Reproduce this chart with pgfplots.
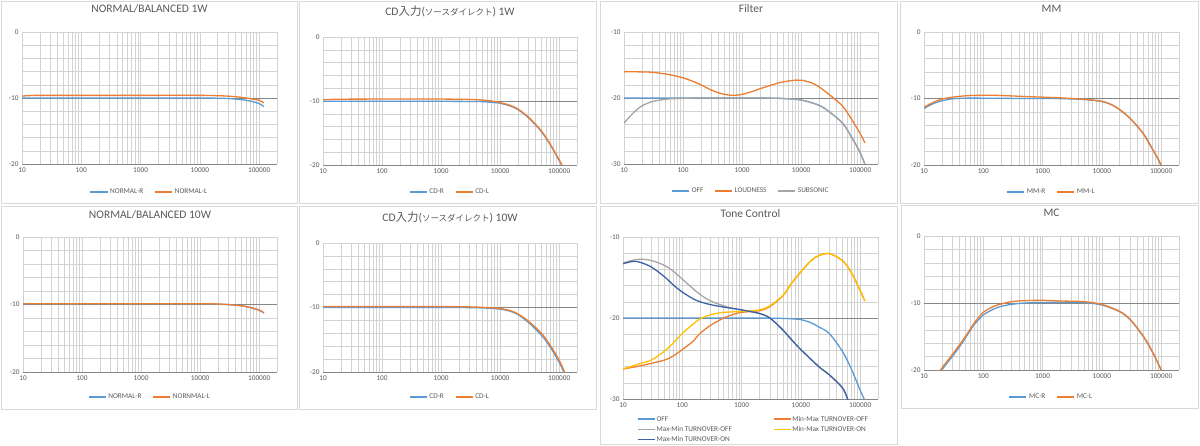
\documentclass[border=0pt]{standalone}
\usepackage{fontspec}
\setmainfont{Carlito}
\newfontfamily\jp{Noto Sans CJK JP}
\usepackage{pgfplots}
\pgfplotsset{compat=1.18}
\definecolor{cA}{HTML}{5B9BD5}
\definecolor{cB}{HTML}{ED7D31}
\definecolor{cC}{HTML}{A5A5A5}
\definecolor{cD}{HTML}{FFC000}
\definecolor{cE}{HTML}{3E62A5}
\definecolor{gridc}{RGB}{210,210,210}
\definecolor{midc}{RGB}{134,134,134}
\definecolor{labc}{HTML}{595959}
\definecolor{boxc}{HTML}{D9D9D9}
\pgfplotsset{
  fr/.style={
    scale only axis, anchor=south west,
    xmin=10, xmax=200000,
    xtick={10,100,1000,10000,100000},
    xticklabels={10,100,1000,10000,100000},
    minor xtick={20,30,40,50,60,70,80,90,200,300,400,500,600,700,800,900,2000,3000,4000,5000,6000,7000,8000,9000,20000,30000,40000,50000,60000,70000,80000,90000,200000},
    grid=both,
    major grid style={draw=gridc, line width=0.5pt},
    minor grid style={draw=gridc, line width=0.5pt},
    axis line style={draw=none},
    major tick length=0pt, minor tick length=0pt,
    tick label style={font=\fontsize{7.3}{8}\selectfont, text=labc},
    legend columns=-1,
    legend style={draw=none, fill=none, font=\fontsize{7.3}{8}\selectfont, text=labc,
      /tikz/every even column/.append style={column sep=9pt},
      at={(0.5,0)}, anchor=center},
    title style={font=\fontsize{11.5}{13}\selectfont, text=labc, at={(0.5,1)}, anchor=center},
    every axis plot/.append style={line width=1.3pt, smooth, no markers},
  },
  dbA/.style={ymin=-20, ymax=0, ytick={-20,-10,0}, yticklabels={-20,-10,0},
    minor ytick={-18,-16,-14,-12,-8,-6,-4,-2},
    extra y ticks={-20,-10}, extra y tick labels={},
    extra y tick style={grid=major, major grid style={draw=midc, line width=0.75pt}}},
  dbB/.style={ymin=-30, ymax=-10, ytick={-30,-20,-10}, yticklabels={-30,-20,-10},
    minor ytick={-28,-26,-24,-22,-18,-16,-14,-12},
    extra y ticks={-30,-20}, extra y tick labels={},
    extra y tick style={grid=major, major grid style={draw=midc, line width=0.75pt}}},
}
\begin{document}
\begin{tikzpicture}
\path[use as bounding box] (0,0) rectangle (1200pt,445pt);
% panel frames
\begin{scope}[draw=boxc, line width=0.8pt]
\draw (1pt,444pt) rectangle (297pt,242pt);
\draw (299pt,444pt) rectangle (596pt,242pt);
\draw (600pt,444pt) rectangle (897pt,242pt);
\draw (900pt,444pt) rectangle (1198pt,242pt);
\draw (1pt,239pt) rectangle (297pt,36pt);
\draw (299pt,239pt) rectangle (596pt,36pt);
\draw (600pt,239pt) rectangle (897pt,1pt);
\draw (901pt,240pt) rectangle (1198pt,37pt);
\end{scope}

% 1 NORMAL/BALANCED 1W
\begin{semilogxaxis}[fr, dbA, at={(22pt,281pt)}, width=255pt, height=132pt,
  title={NORMAL/BALANCED 1W}, title style={yshift=17pt},
  legend style={yshift=-28pt}]
\addplot[cA] coordinates {(10,-10)(100,-10)(1000,-10)(10000,-10)(20000,-10.03)(30000,-10.08)(50000,-10.25)(70000,-10.45)(100000,-10.85)(120000,-11.3)};
\addplot[cB] coordinates {(10,-9.7)(15,-9.62)(20,-9.6)(100,-9.6)(1000,-9.6)(10000,-9.6)(20000,-9.65)(30000,-9.72)(50000,-9.9)(70000,-10.1)(100000,-10.35)(120000,-10.75)};
\legend{NORMAL-R,NORMAL-L}
\end{semilogxaxis}

% 2 CD 1W
\begin{semilogxaxis}[fr, dbA, at={(323pt,280pt)}, width=254pt, height=128pt,
  title={CD{\jp 入力}({\jp\fontsize{8.5}{10}\selectfont ソースダイレクト}) 1W}, title style={yshift=20pt},
  legend style={yshift=-27pt}]
\addplot[cA] coordinates {(10,-10.05)(100,-10.05)(1000,-10.05)(3000,-10.07)(5000,-10.1)(7000,-10.2)(10000,-10.35)(15000,-10.8)(20000,-11.35)(30000,-12.6)(50000,-14.8)(70000,-16.8)(100000,-19.3)(120000,-20.8)};
\addplot[cB] coordinates {(10,-9.8)(20,-9.72)(100,-9.7)(1000,-9.7)(3000,-9.75)(5000,-9.85)(7000,-10.0)(10000,-10.25)(15000,-10.7)(20000,-11.25)(30000,-12.5)(50000,-14.7)(70000,-16.7)(100000,-19.2)(120000,-20.7)};
\legend{CD-R,CD-L}
\end{semilogxaxis}

% 3 Filter
\begin{semilogxaxis}[fr, dbB, at={(624pt,281pt)}, width=254pt, height=132pt,
  title={Filter}, title style={yshift=17pt},
  legend style={yshift=-27pt}]
\addplot[cA] coordinates {(10,-20)(100,-20)(1000,-20)(3000,-20.02)(5000,-20.08)(10000,-20.3)(20000,-21.1)(30000,-22.1)(50000,-23.8)(70000,-25.8)(100000,-28.3)(125000,-30.5)};
\addplot[cB] coordinates {(10,-16)(20,-16.05)(30,-16.1)(50,-16.35)(70,-16.6)(100,-16.95)(150,-17.5)(200,-18.0)(300,-18.8)(400,-19.2)(500,-19.45)(700,-19.6)(1000,-19.45)(1500,-19.0)(2000,-18.6)(3000,-18.1)(4000,-17.75)(5000,-17.55)(7000,-17.35)(10000,-17.3)(15000,-17.7)(20000,-18.3)(30000,-19.5)(50000,-21.2)(70000,-23.1)(100000,-25.4)(120000,-26.8)};
\addplot[cC] coordinates {(10,-23.8)(12,-23.0)(15,-22.1)(20,-21.2)(30,-20.55)(50,-20.2)(70,-20.1)(100,-20.05)(200,-20)(1000,-20)(3000,-20.02)(5000,-20.08)(10000,-20.3)(20000,-21.1)(30000,-22.1)(50000,-23.8)(70000,-25.8)(100000,-28.3)(125000,-30.5)};
\legend{OFF,LOUDNESS,SUBSONIC}
\end{semilogxaxis}

% 4 MM
\begin{semilogxaxis}[fr, dbA, at={(924pt,280pt)}, width=255pt, height=133pt,
  title={MM}, title style={yshift=17pt},
  legend style={yshift=-27pt}]
\addplot[cA] coordinates {(10,-11.5)(12,-11.1)(15,-10.7)(20,-10.35)(30,-10.05)(50,-9.95)(100,-9.95)(500,-10)(1000,-10)(2000,-10.02)(5000,-10.15)(10000,-10.45)(15000,-11.0)(20000,-11.7)(30000,-13.0)(50000,-15.3)(70000,-17.5)(90000,-19.2)(100000,-20.1)(110000,-21)};
\addplot[cB] coordinates {(10,-11.3)(15,-10.5)(20,-10.1)(30,-9.8)(50,-9.6)(100,-9.5)(200,-9.55)(500,-9.7)(1000,-9.8)(2000,-9.9)(5000,-10.12)(10000,-10.42)(15000,-10.98)(20000,-11.68)(30000,-12.98)(50000,-15.28)(70000,-17.48)(90000,-19.18)(100000,-20.08)(110000,-21)};
\legend{MM-R,MM-L}
\end{semilogxaxis}

% 5 NORMAL/BALANCED 10W
\begin{semilogxaxis}[fr, dbA, at={(23pt,73pt)}, width=254pt, height=135pt,
  title={NORMAL/BALANCED 10W}, title style={yshift=16pt},
  legend style={yshift=-25pt}]
\addplot[cA] coordinates {(10,-9.9)(100,-9.9)(1000,-9.9)(10000,-9.9)(20000,-9.95)(30000,-10.02)(50000,-10.2)(70000,-10.45)(100000,-10.85)(120000,-11.25)};
\addplot[cB] coordinates {(10,-9.88)(100,-9.88)(1000,-9.88)(10000,-9.88)(20000,-9.93)(30000,-10.0)(50000,-10.18)(70000,-10.43)(100000,-10.83)(120000,-11.23)};
\legend{NORMAL-R,NORNMAL-L}
\end{semilogxaxis}

% 6 CD 10W
\begin{semilogxaxis}[fr, dbA, at={(323pt,73pt)}, width=254pt, height=129pt,
  title={CD{\jp 入力}({\jp\fontsize{8.5}{10}\selectfont ソースダイレクト}) 10W}, title style={yshift=20pt},
  legend style={yshift=-25pt}]
\addplot[cA] coordinates {(10,-10)(100,-10)(1000,-10)(3000,-10.02)(5000,-10.07)(7000,-10.13)(10000,-10.25)(15000,-10.6)(20000,-11.1)(30000,-12.3)(50000,-14.3)(70000,-16.1)(100000,-18.5)(120000,-20.1)(130000,-21)};
\addplot[cB] coordinates {(10,-9.85)(100,-9.85)(1000,-9.85)(3000,-9.9)(5000,-9.97)(7000,-10.05)(10000,-10.15)(15000,-10.5)(20000,-11.0)(30000,-12.1)(50000,-14.0)(70000,-15.8)(100000,-18.2)(120000,-19.8)(130000,-20.8)};
\legend{CD-R,CD-L}
\end{semilogxaxis}

% 7 Tone Control
\begin{semilogxaxis}[fr, dbB, at={(623pt,46pt)}, width=255pt, height=162pt,
  title={Tone Control}, title style={yshift=17pt},
  legend columns=2, legend cell align=left,
  legend style={at={(0.055,0)}, anchor=north west, yshift=-15pt, inner sep=0pt,
    row sep=0.6pt, nodes={inner sep=1pt, text height=5.8pt, text depth=1.8pt},
    /tikz/every even column/.append style={column sep=40pt}}]
\addplot[cA] coordinates {(10,-20)(100,-20)(1000,-20)(3000,-20.02)(5000,-20.05)(7000,-20.1)(10000,-20.2)(15000,-20.6)(20000,-21.1)(30000,-21.9)(50000,-24.1)(70000,-26.2)(100000,-28.9)(125000,-30.5)};
\addplot[cB] coordinates {(10,-26.3)(20,-25.9)(30,-25.6)(50,-25.2)(70,-24.7)(100,-23.9)(150,-22.9)(200,-21.9)(300,-20.9)(500,-20.0)(700,-19.6)(1000,-19.3)(2000,-19.1)(3000,-18.6)(5000,-17.25)(7000,-15.7)(10000,-14.3)(15000,-12.9)(20000,-12.3)(30000,-12.05)(50000,-12.9)(70000,-14.3)(100000,-16.6)(120000,-17.9)};
\addplot[cC] coordinates {(10,-13.2)(15,-12.85)(20,-12.75)(30,-12.9)(50,-13.5)(70,-14.2)(100,-15.2)(150,-16.35)(200,-17.1)(300,-17.9)(500,-18.5)(700,-18.8)(1000,-19.0)(2000,-19.42)(3000,-20.0)(5000,-21.5)(7000,-22.7)(10000,-23.9)(20000,-26.0)(30000,-27.0)(50000,-28.6)(60000,-29.8)(65000,-30.5)};
\addplot[cD] coordinates {(10,-26.3)(20,-25.6)(30,-25.2)(50,-24.1)(70,-23.1)(100,-21.9)(150,-20.8)(200,-20.1)(300,-19.6)(500,-19.3)(1000,-19.2)(2000,-19.0)(3000,-18.5)(5000,-17.2)(7000,-15.7)(10000,-14.3)(15000,-12.9)(20000,-12.3)(30000,-12.05)(50000,-12.9)(70000,-14.3)(100000,-16.6)(120000,-17.9)};
\addplot[cE] coordinates {(10,-13.3)(15,-13.0)(20,-13.15)(30,-13.7)(50,-14.9)(70,-15.9)(100,-16.8)(150,-17.6)(200,-18.0)(300,-18.35)(500,-18.65)(1000,-19.0)(2000,-19.45)(3000,-20.0)(5000,-21.5)(7000,-22.7)(10000,-23.9)(20000,-26.0)(30000,-27.0)(50000,-28.6)(60000,-29.8)(65000,-30.5)};
\legend{OFF,Min-Max TURNOVER-OFF,Max-Min TURNOVER-OFF,Min-Max TURNOVER-ON,Max-Min TURNOVER-ON}
\end{semilogxaxis}

% 8 MC
\begin{semilogxaxis}[fr, dbA, at={(924pt,75pt)}, width=255pt, height=134pt,
  title={MC}, title style={yshift=17pt},
  legend style={yshift=-27pt}]
\addplot[cA] coordinates {(18,-21.2)(20,-20.0)(30,-18.0)(40,-16.5)(50,-15.2)(70,-13.25)(100,-11.8)(150,-10.9)(200,-10.5)(300,-10.2)(500,-10.0)(1000,-9.92)(2000,-9.9)(5000,-9.95)(10000,-10.3)(20000,-11.3)(30000,-12.5)(50000,-15.0)(70000,-17.2)(100000,-20.0)(110000,-21)};
\addplot[cB] coordinates {(17,-21.2)(19,-20.0)(30,-17.7)(50,-15.0)(70,-13.0)(100,-11.4)(150,-10.5)(200,-10.15)(300,-9.8)(500,-9.65)(1000,-9.6)(2000,-9.7)(5000,-9.8)(10000,-10.2)(20000,-11.25)(30000,-12.45)(50000,-14.95)(70000,-17.15)(100000,-20.0)(110000,-21)};
\legend{MC-R,MC-L}
\end{semilogxaxis}
\end{tikzpicture}
\end{document}
